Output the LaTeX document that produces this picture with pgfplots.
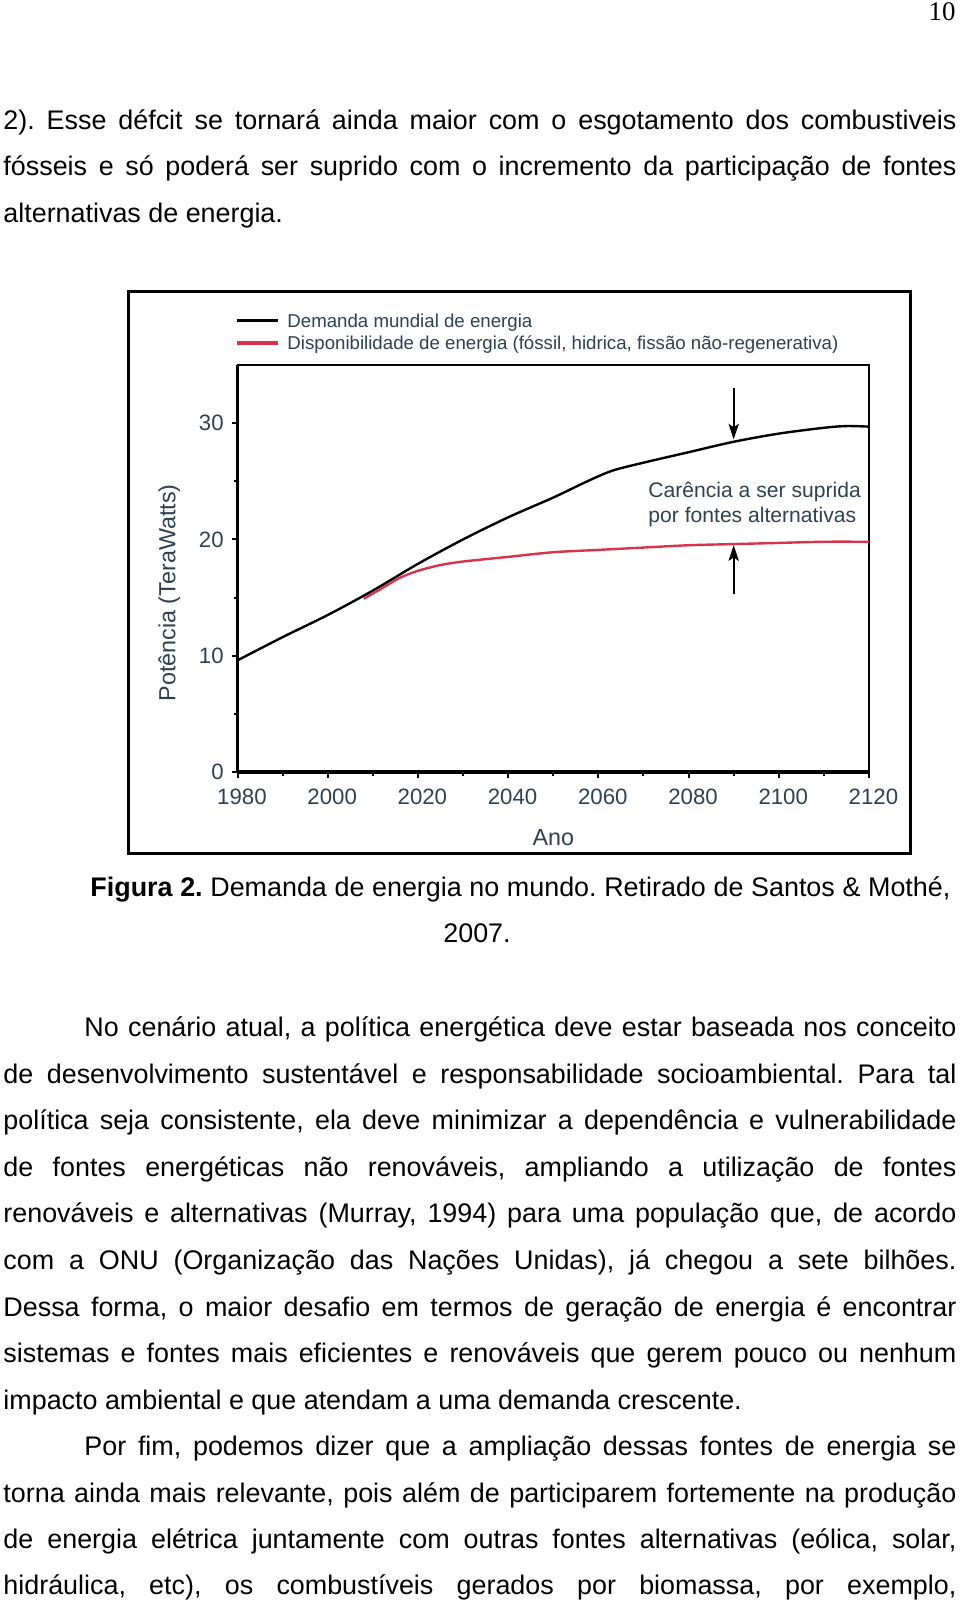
\documentclass[border=0pt]{standalone}
\usepackage{fontspec}
\setmainfont{Liberation Sans}
\newfontfamily\seriffont{Liberation Serif}
\usepackage{pgfplots}
\pgfplotsset{compat=1.18}
\usetikzlibrary{arrows.meta}
\definecolor{lbl}{HTML}{2F4052}
\definecolor{supply}{HTML}{D8334A}
\newlength\px \setlength\px{0.45pt}
\frenchspacing

\begin{document}
\begin{tikzpicture}
\begin{scope}[x=0.45pt,y=-0.45pt]
\path[use as bounding box] (0,0) rectangle (960,1601);
\tikzset{ln/.style={anchor=mid west, inner sep=0pt, font=\fontsize{12.1}{14}\selectfont}}
% page number
\node[anchor=mid east, inner sep=0pt, font=\seriffont\fontsize{12.1}{14}\selectfont] at (956,14.5) {10};
% text above the figure
\node[ln] at (3,124) {\makebox[953\px][s]{2). Esse défcit se tornará ainda maior com o esgotamento dos combustiveis}};
\node[ln] at (3,170) {\makebox[953\px][s]{fósseis e só poderá ser suprido com o incremento da participação de fontes}};
\node[ln] at (3,217) {alternativas de energia.};
% figure frame and legend
\draw[line width=1.35pt] (128.7,292) rectangle (910,853.8);
\draw[black, line width=1.6pt] (237,320.5) -- (278,320.5);
\draw[supply, line width=1.6pt] (237,343) -- (278,343);
\node[anchor=mid west, inner sep=0pt, text=lbl, font=\fontsize{8.4}{10}\selectfont] at (287,321.5) {Demanda mundial de energia};
\node[anchor=mid west, inner sep=0pt, text=lbl, font=\fontsize{8.4}{10}\selectfont] at (287,344) {Disponibilidade de energia (fóssil, hidrica, fissão não-regenerativa)};
% caption
\node[ln] at (90,890.5) {\makebox[860\px][s]{\textbf{Figura 2.} Demanda de energia no mundo. Retirado de Santos \& Mothé,}};
\node[anchor=mid, inner sep=0pt, font=\fontsize{12.1}{14}\selectfont] at (477,937) {2007.};
% paragraph 1
\node[ln] at (84,1031) {\makebox[872\px][s]{No cenário atual, a política energética deve estar baseada nos conceito}};
\node[ln] at (3,1078) {\makebox[953\px][s]{de desenvolvimento sustentável e responsabilidade socioambiental. Para tal}};
\node[ln] at (3,1124) {\makebox[953\px][s]{política seja consistente, ela deve minimizar a dependência e vulnerabilidade}};
\node[ln] at (3,1170.8) {\makebox[953\px][s]{de fontes energéticas não renováveis, ampliando a utilização de fontes}};
\node[ln] at (3,1216.8) {\makebox[953\px][s]{renováveis e alternativas (Murray, 1994) para uma população que, de acordo}};
\node[ln] at (3,1263.8) {\makebox[953\px][s]{com a ONU (Organização das Nações Unidas), já chegou a sete bilhões.}};
\node[ln] at (3,1310.8) {\makebox[953\px][s]{Dessa forma, o maior desafio em termos de geração de energia é encontrar}};
\node[ln] at (3,1356.7) {\makebox[953\px][s]{sistemas e fontes mais eficientes e renováveis que gerem pouco ou nenhum}};
\node[ln] at (3,1403.7) {impacto ambiental e que atendam a uma demanda crescente.};
% paragraph 2
\node[ln] at (84,1449.7) {\makebox[872\px][s]{Por fim, podemos dizer que a ampliação dessas fontes de energia se}};
\node[ln] at (3,1496.6) {\makebox[953\px][s]{torna ainda mais relevante, pois além de participarem fortemente na produção}};
\node[ln] at (3,1542.6) {\makebox[953\px][s]{de energia elétrica juntamente com outras fontes alternativas (eólica, solar,}};
\node[ln] at (3,1589) {\makebox[953\px][s]{hidráulica, etc), os combustíveis gerados por biomassa, por exemplo,}};
\end{scope}

\begin{axis}[
  at={(106.875pt,-347.4pt)}, anchor=south west, scale only axis,
  width=284.175pt, height=183.15pt,
  xmin=1980, xmax=2120, ymin=0, ymax=35,
  xtick distance=20, ytick={0,10,20,30},
  minor x tick num=1, minor ytick={5,15,25},
  tick align=outside, tick pos=left,
  major tick length=2.7pt, minor tick length=1.8pt,
  every tick/.style={black, line width=0.9pt},
  axis line style={line width=0.72pt},
  ticklabel style={font=\fontsize{10}{12}\selectfont, text=lbl},
  xticklabel style={xshift=2pt, yshift=-1.3pt},
  /pgf/number format/assume math mode=true,
  /pgf/number format/1000 sep={},
  xlabel={Ano}, ylabel={Potência (TeraWatts)},
  label style={font=\fontsize{10.5}{12}\selectfont, text=lbl},
  xlabel style={at={(axis description cs:0.5,-0.161)}, anchor=center},
  ylabel style={at={(axis description cs:-0.108,0.44)}, anchor=center},
  clip=false,
]
\addplot[black, line width=1.08pt, smooth] coordinates {
(1980,9.6) (1990,11.6) (2000,13.5) (2010,15.6) (2020,17.9) (2030,20.0)
(2040,21.9) (2050,23.6) (2057,24.9) (2063,25.9) (2070,26.6) (2080,27.5)
(2090,28.4) (2100,29.1) (2110,29.6) (2115,29.75) (2120,29.7)};
\addplot[supply, line width=1.08pt, smooth] coordinates {
(2008,14.9) (2012,15.8) (2016,16.7) (2020,17.3) (2025,17.8) (2030,18.1)
(2040,18.5) (2050,18.9) (2060,19.1) (2070,19.3) (2080,19.5) (2090,19.6)
(2100,19.7) (2110,19.8) (2120,19.8)};
\draw[line width=1.8pt] (rel axis cs:0,0) -- (rel axis cs:1,0);
\draw[line width=1.08pt] (rel axis cs:0,0) -- (rel axis cs:0,1);
\draw[line width=0.9pt, -{Stealth[length=7pt,width=4.6pt,inset=1.5pt]}] (axis cs:2090,33) -- (axis cs:2090,28.6);
\draw[line width=0.9pt, -{Stealth[length=7pt,width=4.6pt,inset=1.5pt]}] (axis cs:2090,15.3) -- (axis cs:2090,19.5);
\node[anchor=west, align=left, text=lbl, inner sep=0pt, font=\fontsize{9.5}{11}\selectfont] at (axis cs:2071,23.0) {Carência a ser suprida\\por fontes alternativas};
\end{axis}
\end{tikzpicture}
\end{document}
